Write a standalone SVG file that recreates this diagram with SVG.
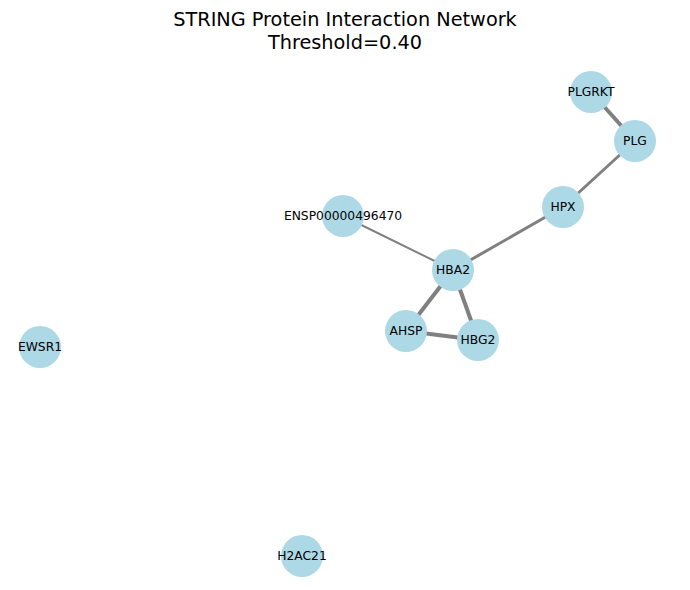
<svg xmlns="http://www.w3.org/2000/svg" width="690" height="590" viewBox="0 0 690 590">
<style>
.n{fill:#add8e6}
.l{font-family:"DejaVu Sans",sans-serif;font-size:12.3px;fill:#000;text-anchor:middle;dominant-baseline:central}
.t{font-family:"DejaVu Sans",sans-serif;font-size:19.3px;fill:#000;text-anchor:middle}
.e{stroke:#808080;fill:none;stroke-linecap:butt}
</style>
<rect width="690" height="590" fill="#fff"/>
<text class="t" x="345" y="26">STRING Protein Interaction Network</text>
<text class="t" x="345" y="49">Threshold=0.40</text>
<g id="edges">
<line class="e" x1="343" y1="216" x2="453" y2="270" stroke-width="2"/>
<line class="e" x1="453" y1="270" x2="563" y2="207" stroke-width="3"/>
<line class="e" x1="563" y1="207" x2="635" y2="141" stroke-width="3"/>
<line class="e" x1="591" y1="92" x2="635" y2="141" stroke-width="4"/>
<line class="e" x1="453" y1="270" x2="406" y2="331" stroke-width="4"/>
<line class="e" x1="453" y1="270" x2="478" y2="340" stroke-width="4"/>
<line class="e" x1="406" y1="331" x2="478" y2="340" stroke-width="4"/>
</g>
<g id="PLGRKT"><circle class="n" cx="591" cy="92" r="21"/><text class="l" x="591" y="92">PLGRKT</text></g>
<g id="PLG"><circle class="n" cx="635" cy="141" r="21"/><text class="l" x="635" y="141">PLG</text></g>
<g id="HPX"><circle class="n" cx="563" cy="207" r="21"/><text class="l" x="563" y="207">HPX</text></g>
<g id="ENSP00000496470"><circle class="n" cx="343" cy="216" r="21"/><text class="l" x="343" y="216">ENSP00000496470</text></g>
<g id="HBA2"><circle class="n" cx="453" cy="270" r="21"/><text class="l" x="453" y="270">HBA2</text></g>
<g id="AHSP"><circle class="n" cx="406" cy="331" r="21"/><text class="l" x="406" y="331">AHSP</text></g>
<g id="HBG2"><circle class="n" cx="478" cy="340" r="21"/><text class="l" x="478" y="340">HBG2</text></g>
<g id="EWSR1"><circle class="n" cx="40" cy="347" r="21"/><text class="l" x="40" y="347">EWSR1</text></g>
<g id="H2AC21"><circle class="n" cx="302" cy="556" r="21"/><text class="l" x="302" y="556">H2AC21</text></g>
</svg>
